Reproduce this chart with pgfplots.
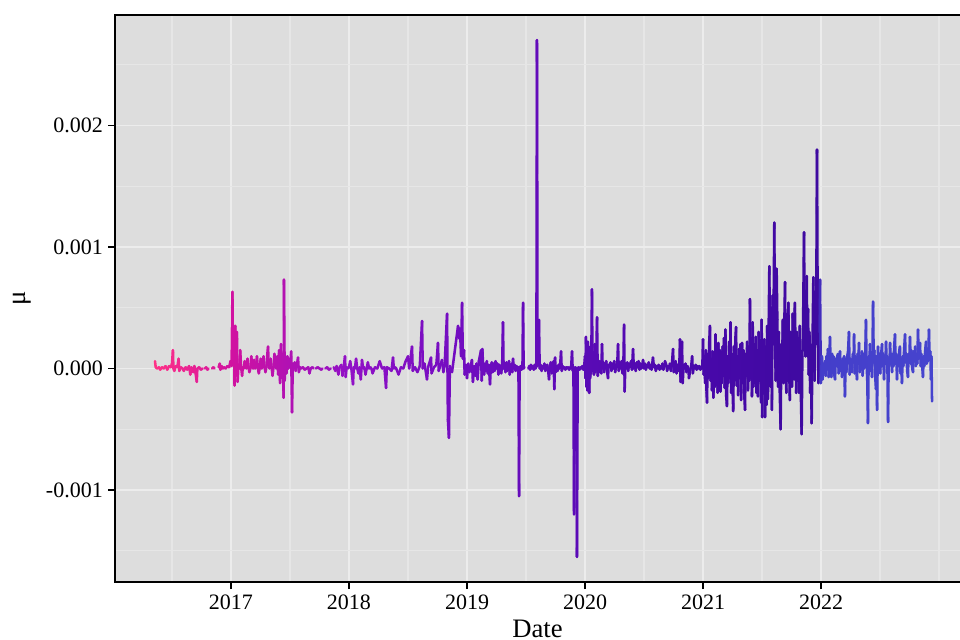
\documentclass[border=0pt]{standalone}
\usepackage{fontspec}
\setmainfont{Liberation Serif}
\usepackage{pgfplots}
\pgfplotsset{compat=1.18}
\definecolor{panel}{RGB}{221,221,221}
\definecolor{gridmaj}{RGB}{236,236,236}
\definecolor{gridmin}{RGB}{230,230,230}
\pgfplotsset{colormap={datecol}{rgb255(0pt)=(255,50,135); rgb255(64pt)=(210,18,160); rgb255(164pt)=(145,16,198); rgb255(264pt)=(112,12,192); rgb255(364pt)=(90,10,182); rgb255(464pt)=(72,8,170); rgb255(563pt)=(62,10,160); rgb255(565pt)=(68,62,202); rgb255(659pt)=(70,68,206)}}
\pgfplotsset{ser/.style={mesh, point meta=x, line width=1.9pt, no marks, line join=round, line cap=round}}
\begin{document}
\begin{tikzpicture}
\begin{axis}[name=ax, at={(0,0)}, anchor=south west,
  scale only axis, width=633.75pt, height=425.25pt,
  xmin=2016.017, xmax=2023.178, ymin=-0.001756, ymax=0.002907,
  axis background/.style={fill=panel},
  axis line style={draw=none},
  colormap name=datecol, point meta min=2016.356, point meta max=2022.941,
  xtick={2017,2018,2019,2020,2021,2022}, xticklabels={2017,2018,2019,2020,2021,2022},
  minor xtick={2016.5,2017.5,2018.5,2019.5,2020.5,2021.5,2022.5,2023},
  ytick={-0.001,0,0.001,0.002}, yticklabels={-0.001,0.000,0.001,0.002},
  minor ytick={-0.0015,-0.0005,0.0005,0.0015,0.0025},
  grid=both, major grid style={color=gridmaj, line width=1.1pt}, minor grid style={color=gridmin, line width=0.8pt},
  tick pos=left, tick align=outside, major tick length=5.25pt, minor tick length=0pt,
  every tick/.style={black, line width=1.1pt},
  ticklabel style={font=\fontsize{16.5}{19}\selectfont, inner sep=0pt},
  xticklabel style={yshift=-4.5pt}, yticklabel style={xshift=-3.75pt},
  xlabel={Date}, ylabel={μ},
  label style={font=\fontsize{20}{24}\selectfont, inner sep=0pt},
  xlabel style={at={(axis description cs:0.5,0)}, anchor=base, yshift=-41.25pt},
  ylabel style={at={(axis description cs:-0.110,0.5)}, anchor=center, rotate=0},
]
\addplot[ser] coordinates {(2016.356,0.00006)(2016.362,0.00001)(2016.375,0.00000)(2016.39,0.00001)(2016.40,-0.00001)(2016.415,0.00001)(2016.43,0.00000)(2016.445,0.00002)(2016.46,-0.00001)(2016.475,0.00002)(2016.49,0.00001)(2016.50,0.00004)(2016.508,0.00015)(2016.512,0.00000)(2016.52,-0.00002)(2016.53,0.00002)(2016.545,0.00001)(2016.556,0.00008)(2016.562,-0.00002)(2016.575,0.00001)(2016.59,0.00000)(2016.60,-0.00002)(2016.615,0.00001)(2016.63,-0.00001)(2016.645,0.00002)(2016.655,-0.00005)(2016.665,0.00001)(2016.68,-0.00003)(2016.69,0.00002)(2016.70,-0.00004)(2016.71,-0.00011)(2016.715,0.00000)(2016.73,0.00001)(2016.745,-0.00001)(2016.76,0.00000)};
\addplot[ser] coordinates {(2016.78,0.00000)(2016.79,0.00001)(2016.80,-0.00001)(2016.81,0.00000)};
\addplot[ser] coordinates {(2016.84,0.00000)(2016.85,0.00001)(2016.86,0.00000)};
\addplot[ser] coordinates {(2016.895,0.00001)(2016.905,0.00004)(2016.91,-0.00001)(2016.92,0.00002)(2016.93,0.00000)(2016.94,0.00001)(2016.955,0.00000)(2016.97,0.00002)(2016.985,0.00001)(2016.995,0.00006)(2017.005,0.00002)(2017.012,0.00063)(2017.018,0.00005)(2017.025,0.00025)(2017.03,-0.00014)(2017.036,0.00035)(2017.042,-0.00006)(2017.05,0.00030)(2017.056,-0.00011)(2017.063,0.00002)(2017.07,0.00000)(2017.078,0.00015)(2017.086,0.00001)(2017.094,-0.00006)(2017.10,0.00001)(2017.108,0.00000)(2017.116,0.00006)(2017.124,0.00001)(2017.132,0.00000)(2017.14,0.00008)(2017.148,0.00001)(2017.156,-0.00003)(2017.164,0.00000)(2017.172,0.00010)(2017.18,0.00001)(2017.188,0.00000)(2017.196,0.00007)(2017.204,0.00000)(2017.212,0.00001)(2017.22,0.00010)(2017.228,0.00000)(2017.236,-0.00004)(2017.244,0.00001)(2017.252,0.00008)(2017.26,0.00000)(2017.268,0.00001)(2017.276,0.00010)(2017.284,0.00001)(2017.292,-0.00003)(2017.30,0.00001)(2017.308,0.00012)(2017.314,0.00018)(2017.32,0.00001)(2017.328,0.00000)(2017.336,0.00008)(2017.344,0.00001)(2017.352,-0.00006)(2017.36,0.00001)(2017.368,0.00012)(2017.376,0.00001)(2017.384,0.00000)(2017.392,0.00010)(2017.40,-0.00005)(2017.408,0.00015)(2017.416,-0.00012)(2017.424,0.00020)(2017.432,-0.00008)(2017.44,0.00012)(2017.446,-0.00024)(2017.449,0.00073)(2017.455,-0.00010)(2017.462,0.00008)(2017.47,-0.00004)(2017.478,0.00010)(2017.486,0.00000)(2017.494,0.00008)(2017.502,0.00001)(2017.51,0.00014)(2017.517,-0.00036)(2017.524,0.00004)(2017.532,0.00000)(2017.54,0.00005)(2017.548,-0.00002)(2017.556,0.00001)(2017.568,0.00009)(2017.575,-0.00003)(2017.585,0.00001)(2017.595,0.00000)(2017.61,0.00001)(2017.625,-0.00001)(2017.64,0.00000)(2017.655,0.00001)(2017.665,-0.00004)(2017.675,0.00000)(2017.69,0.00001)(2017.70,0.00000)};
\addplot[ser] coordinates {(2017.72,0.00000)(2017.735,0.00001)(2017.75,0.00000)(2017.765,-0.00001)(2017.775,0.00000)};
\addplot[ser] coordinates {(2017.80,0.00000)(2017.815,0.00001)(2017.83,-0.00001)(2017.845,0.00000)};
\addplot[ser] coordinates {(2017.87,0.00001)(2017.885,-0.00002)(2017.895,0.00002)(2017.91,-0.00005)(2017.92,0.00001)(2017.935,0.00003)(2017.945,-0.00006)(2017.955,0.00001)(2017.966,0.00010)(2017.972,-0.00007)(2017.98,0.00001)(2017.99,0.00000)(2018.00,0.00001)(2018.01,0.00006)(2018.02,0.00000)(2018.034,-0.00013)(2018.04,0.00001)(2018.05,0.00000)(2018.06,0.00008)(2018.07,0.00000)(2018.08,-0.00004)(2018.09,0.00001)(2018.10,-0.00009)(2018.11,0.00007)(2018.12,0.00000)(2018.13,0.00001)(2018.14,-0.00005)(2018.15,0.00000)(2018.16,0.00005)(2018.17,0.00000)(2018.18,0.00001)(2018.19,0.00000)(2018.20,-0.00004)(2018.22,0.00001)(2018.24,0.00000)(2018.26,0.00006)(2018.28,0.00000)(2018.30,0.00001)(2018.314,-0.00016)(2018.32,0.00001)(2018.34,0.00000)(2018.36,-0.00002)(2018.373,0.00009)(2018.38,0.00000)(2018.39,0.00001)(2018.40,0.00000)(2018.42,-0.00005)(2018.44,0.00001)(2018.46,0.00000)(2018.48,0.00006)(2018.50,0.00010)(2018.51,0.00000)(2018.534,0.00018)(2018.54,-0.00002)(2018.56,0.00001)(2018.58,-0.00003)(2018.60,0.00002)(2018.619,0.00039)(2018.625,0.00000)(2018.64,0.00004)(2018.661,-0.00009)(2018.67,0.00001)(2018.695,0.00009)(2018.70,-0.00004)(2018.72,0.00001)(2018.74,0.00003)(2018.754,0.00021)(2018.76,-0.00002)(2018.77,0.00001)(2018.788,0.00007)(2018.80,-0.00003)(2018.81,0.00002)(2018.831,0.00045)(2018.838,-0.00042)(2018.847,-0.00057)(2018.855,0.00002)(2018.873,-0.00003)(2018.924,0.00035)(2018.93,0.00025)(2018.94,0.00033)(2018.95,0.00010)(2018.958,0.00054)(2018.965,0.00008)(2018.975,0.00015)(2018.98,-0.00005)(2018.99,0.00003)(2019.00,-0.00008)(2019.01,0.00004)(2019.02,-0.00003)(2019.042,0.00007)(2019.05,-0.00011)(2019.06,0.00002)(2019.07,-0.00006)(2019.08,0.00004)(2019.09,-0.00009)(2019.10,0.00006)(2019.119,0.00015)(2019.125,-0.00010)(2019.13,0.00016)(2019.137,0.00002)(2019.145,-0.00005)(2019.153,0.00004)(2019.16,-0.00002)(2019.168,0.00006)(2019.176,-0.00004)(2019.185,0.00003)(2019.195,-0.00013)(2019.202,0.00002)(2019.21,0.00005)(2019.218,-0.00003)(2019.226,0.00004)(2019.234,-0.00002)(2019.242,0.00006)(2019.25,0.00000)(2019.258,0.00004)(2019.266,-0.00005)(2019.274,0.00003)(2019.282,0.00001)(2019.29,-0.00004)(2019.298,0.00003)(2019.305,0.00038)(2019.31,0.00000)(2019.318,0.00004)(2019.326,-0.00003)(2019.334,0.00005)(2019.342,-0.00002)(2019.35,0.00003)(2019.356,0.00006)(2019.362,-0.00005)(2019.37,0.00002)(2019.378,0.00004)(2019.384,-0.00003)(2019.39,0.00008)(2019.396,0.00000)(2019.404,0.00003)(2019.412,-0.00002)(2019.42,0.00002)(2019.428,-0.00001)(2019.436,0.00001)(2019.441,-0.00105)(2019.446,0.00000)(2019.455,0.00002)(2019.462,-0.00001)(2019.47,0.00001)(2019.475,0.00054)(2019.48,0.00000)(2019.487,0.00001)};
\addplot[ser] coordinates {(2019.52,0.00000)(2019.528,0.00002)(2019.535,-0.00001)(2019.542,0.00003)(2019.55,0.00000)(2019.558,0.00002)(2019.566,-0.00001)(2019.574,0.00003)(2019.582,0.00000)(2019.588,0.00004)(2019.593,0.00270)(2019.598,0.00002)(2019.604,0.00010)(2019.61,0.00040)(2019.616,0.00000)(2019.624,0.00003)(2019.632,-0.00002)(2019.64,0.00002)(2019.648,0.00000)(2019.656,0.00004)(2019.664,-0.00002)(2019.672,0.00001)(2019.68,0.00003)(2019.688,-0.00002)(2019.695,-0.00009)(2019.702,0.00002)(2019.71,0.00005)(2019.718,-0.00004)(2019.726,0.00003)(2019.734,0.00006)(2019.74,-0.00017)(2019.746,0.00009)(2019.752,-0.00003)(2019.76,0.00002)(2019.768,-0.00002)(2019.776,0.00003)(2019.784,0.00000)(2019.79,0.00004)(2019.797,0.00014)(2019.803,-0.00002)(2019.81,0.00002)(2019.818,0.00000)(2019.826,0.00001)(2019.834,-0.00001)(2019.842,0.00001)(2019.85,0.00000)(2019.858,0.00001)(2019.866,-0.00001)(2019.874,0.00001)(2019.882,0.00000)(2019.89,0.00014)(2019.896,-0.00002)(2019.902,0.00001)(2019.907,-0.00120)(2019.912,0.00000)(2019.918,0.00001)(2019.925,0.00000)(2019.932,-0.00155)(2019.938,0.00000)(2019.946,0.00001)(2019.954,-0.00001)(2019.962,0.00001)(2019.97,0.00000)(2019.978,0.00002)(2019.986,-0.00001)(2019.994,0.00003)(2020.000,0.00010)(2020.004,-0.00008)(2020.008,0.00026)(2020.012,-0.00015)(2020.016,0.00020)(2020.02,-0.00018)(2020.024,0.00022)(2020.028,-0.00012)(2020.032,0.00018)(2020.036,-0.00020)(2020.04,0.00012)(2020.044,-0.00008)(2020.048,0.00010)(2020.052,-0.00004)(2020.059,0.00065)(2020.064,-0.00002)(2020.07,0.00006)(2020.076,-0.00005)(2020.082,0.00020)(2020.088,-0.00003)(2020.095,0.00008)(2020.102,0.00042)(2020.108,-0.00006)(2020.114,0.00004)(2020.12,-0.00003)(2020.126,0.00006)(2020.132,0.00002)(2020.138,-0.00004)(2020.144,0.00020)(2020.15,0.00000)(2020.156,0.00005)(2020.162,-0.00003)(2020.168,0.00004)(2020.174,0.00000)(2020.18,0.00006)(2020.188,-0.00003)(2020.195,-0.00008)(2020.2,0.00003)(2020.208,0.00001)(2020.216,0.00005)(2020.224,-0.00002)(2020.232,0.00004)(2020.24,0.00000)(2020.248,0.00006)(2020.256,-0.00003)(2020.264,0.00003)(2020.272,0.00001)(2020.28,0.00020)(2020.286,-0.00002)(2020.294,0.00004)(2020.302,0.00000)(2020.31,0.00006)(2020.318,-0.00004)(2020.326,0.00008)(2020.331,0.00036)(2020.336,-0.00019)(2020.342,0.00004)(2020.35,0.00000)(2020.358,0.00005)(2020.366,-0.00002)(2020.374,0.00004)(2020.382,0.00001)(2020.39,0.00006)(2020.398,-0.00001)(2020.407,0.00016)(2020.414,0.00000)(2020.422,0.00004)(2020.43,-0.00002)(2020.438,0.00005)(2020.446,0.00001)(2020.454,0.00006)(2020.462,-0.00001)(2020.47,0.00004)(2020.478,0.00000)(2020.485,0.00003)(2020.492,0.00007)(2020.5,0.00000)(2020.508,0.00004)(2020.516,-0.00001)(2020.524,0.00003)(2020.532,0.00001)(2020.54,0.00005)(2020.548,0.00000)(2020.556,0.00003)(2020.564,-0.00001)(2020.576,0.00009)(2020.584,0.00001)(2020.592,0.00003)(2020.6,-0.00002)(2020.608,0.00002)(2020.616,0.00000)(2020.624,0.00003)(2020.632,-0.00001)(2020.64,0.00002)(2020.648,0.00000)(2020.656,0.00004)(2020.664,-0.00001)(2020.672,0.00002)(2020.678,0.00006)(2020.688,0.00003)(2020.696,-0.00002)(2020.704,0.00002)(2020.712,0.00000)(2020.72,0.00004)(2020.728,-0.00002)(2020.736,0.00003)(2020.746,0.00016)(2020.752,-0.00003)(2020.76,0.00002)(2020.768,0.00006)(2020.776,-0.00004)(2020.784,0.00003)(2020.792,-0.00002)(2020.8,0.00005)(2020.805,0.00024)(2020.81,-0.00011)(2020.815,0.00004)(2020.822,0.00022)(2020.828,-0.00012)(2020.836,0.00003)(2020.844,0.00000)(2020.852,0.00004)(2020.86,-0.00003)(2020.868,0.00002)(2020.876,0.00000)(2020.881,-0.00008)(2020.892,-0.00001)(2020.9,0.00002)(2020.908,0.00010)(2020.914,-0.00004)(2020.922,0.00002)(2020.93,0.00000)(2020.938,0.00003)(2020.946,-0.00001)(2020.954,0.00002)(2020.962,0.00000)(2020.97,0.00002)(2020.978,-0.00001)(2020.986,0.00001)(2020.994,0.00000)(2021.000,0.00024)(2021.006,-0.00005)(2021.012,0.00010)(2021.018,-0.00012)(2021.024,0.00015)(2021.03,-0.00020)(2021.034,-0.00028)(2021.04,0.00012)(2021.046,-0.00008)(2021.052,0.00020)(2021.059,0.00035)(2021.064,-0.00010)(2021.07,0.00008)(2021.076,-0.00018)(2021.082,0.00014)(2021.088,-0.00024)(2021.094,0.00010)(2021.1,-0.00015)(2021.106,0.00028)(2021.112,-0.00005)(2021.118,0.00012)(2021.124,-0.00020)(2021.13,0.00021)(2021.136,-0.00010)(2021.142,0.00015)(2021.148,-0.00019)(2021.154,0.00008)(2021.16,-0.00012)(2021.166,0.00018)(2021.172,-0.00006)(2021.178,0.00025)(2021.184,-0.00016)(2021.19,0.00032)(2021.196,-0.00022)(2021.203,-0.00031)(2021.209,0.00010)(2021.215,-0.00012)(2021.221,0.00022)(2021.227,-0.00008)(2021.233,0.00038)(2021.239,-0.00020)(2021.245,0.00012)(2021.25,-0.00015)(2021.256,-0.00035)(2021.262,0.00018)(2021.268,-0.00010)(2021.274,0.00024)(2021.28,0.00034)(2021.286,-0.00014)(2021.292,0.00010)(2021.298,-0.00022)(2021.305,0.00016)(2021.311,-0.00008)(2021.317,0.00020)(2021.323,-0.00026)(2021.331,0.00021)(2021.337,-0.00012)(2021.343,0.00015)(2021.349,-0.00020)(2021.356,-0.00034)(2021.362,0.00012)(2021.368,-0.00006)(2021.374,0.00022)(2021.381,-0.00018)(2021.386,0.00018)(2021.392,-0.00010)(2021.398,0.00057)(2021.404,-0.00008)(2021.41,0.00025)(2021.415,-0.00023)(2021.421,0.00038)(2021.427,-0.00015)(2021.433,0.00020)(2021.441,-0.00012)(2021.447,0.00026)(2021.453,-0.00020)(2021.459,0.00014)(2021.466,-0.00023)(2021.472,0.00030)(2021.478,-0.00010)(2021.484,0.00020)(2021.492,-0.00028)(2021.497,0.00040)(2021.502,-0.00040)(2021.508,0.00015)(2021.514,-0.00010)(2021.52,0.00024)(2021.526,-0.00040)(2021.532,0.00018)(2021.538,-0.00030)(2021.544,0.00035)(2021.55,-0.00025)(2021.556,0.00030)(2021.562,0.00084)(2021.567,0.00020)(2021.572,-0.00015)(2021.578,0.00050)(2021.584,-0.00034)(2021.59,0.00060)(2021.596,0.00020)(2021.604,0.00120)(2021.61,0.00030)(2021.616,-0.00010)(2021.624,0.00082)(2021.63,0.00040)(2021.636,-0.00015)(2021.642,0.00030)(2021.648,-0.00010)(2021.658,-0.00050)(2021.664,0.00020)(2021.67,-0.00005)(2021.676,0.00040)(2021.682,-0.00012)(2021.688,0.00030)(2021.695,0.00071)(2021.7,0.00010)(2021.706,-0.00020)(2021.712,0.00045)(2021.718,-0.00010)(2021.723,0.00054)(2021.73,0.00002)(2021.736,-0.00026)(2021.742,0.00030)(2021.748,0.00002)(2021.754,-0.00015)(2021.76,0.00045)(2021.766,0.00010)(2021.772,-0.00009)(2021.778,0.00054)(2021.784,0.00020)(2021.79,-0.00020)(2021.796,0.00030)(2021.802,-0.00010)(2021.808,0.00025)(2021.814,-0.00020)(2021.82,0.00035)(2021.826,-0.00005)(2021.836,-0.00054)(2021.842,0.00010)(2021.848,0.00035)(2021.856,0.00112)(2021.862,0.00030)(2021.868,0.00010)(2021.874,0.00045)(2021.879,0.00076)(2021.885,0.00010)(2021.89,0.00049)(2021.896,-0.00005)(2021.902,0.00030)(2021.908,-0.00020)(2021.914,0.00010)(2021.921,-0.00045)(2021.928,0.00020)(2021.935,0.00075)(2021.94,0.00030)(2021.946,-0.00010)(2021.952,0.00050)(2021.958,0.00020)(2021.966,0.00180)(2021.972,0.00040)(2021.978,-0.00012)(2021.985,0.00030)(2021.992,0.00073)(2021.998,-0.00012)(2022.004,0.00002)(2022.008,0.00010)(2022.014,-0.00009)(2022.02,0.00004)(2022.026,-0.00004)(2022.034,0.00006)(2022.04,-0.00006)(2022.046,0.00010)(2022.052,0.00003)(2022.059,0.00016)(2022.065,-0.00007)(2022.07,0.00005)(2022.076,0.00026)(2022.082,0.00002)(2022.088,-0.00007)(2022.094,0.00012)(2022.1,0.00002)(2022.106,0.00010)(2022.112,-0.00005)(2022.119,-0.00009)(2022.125,0.00008)(2022.131,0.00002)(2022.137,0.00010)(2022.144,0.00012)(2022.15,-0.00004)(2022.156,0.00008)(2022.161,0.00014)(2022.167,-0.00002)(2022.172,0.00006)(2022.178,-0.00007)(2022.184,0.00008)(2022.19,-0.00005)(2022.196,0.00010)(2022.203,-0.00023)(2022.209,0.00008)(2022.215,-0.00003)(2022.222,0.00010)(2022.229,0.00014)(2022.237,0.00030)(2022.243,-0.00005)(2022.25,0.00008)(2022.256,0.00002)(2022.263,-0.00003)(2022.27,0.00012)(2022.276,0.00005)(2022.28,0.00028)(2022.286,-0.00004)(2022.292,0.00010)(2022.298,0.00000)(2022.305,-0.00009)(2022.31,0.00012)(2022.316,0.00004)(2022.322,0.00021)(2022.328,-0.00003)(2022.334,0.00010)(2022.34,0.00002)(2022.347,0.00014)(2022.353,-0.00006)(2022.36,0.00012)(2022.366,0.00000)(2022.373,0.00002)(2022.381,0.00040)(2022.386,0.00005)(2022.392,-0.00010)(2022.398,-0.00045)(2022.404,0.00010)(2022.41,0.00004)(2022.415,0.00020)(2022.42,-0.00002)(2022.426,0.00012)(2022.432,-0.00007)(2022.436,0.00010)(2022.441,0.00055)(2022.447,0.00005)(2022.452,0.00015)(2022.458,-0.00005)(2022.466,-0.00017)(2022.47,0.00010)(2022.475,-0.00034)(2022.48,0.00005)(2022.483,0.00018)(2022.49,0.00002)(2022.496,0.00012)(2022.502,-0.00004)(2022.508,0.00010)(2022.517,0.00020)(2022.522,0.00002)(2022.528,0.00012)(2022.534,-0.00009)(2022.54,0.00010)(2022.546,0.00004)(2022.551,0.00022)(2022.557,0.00003)(2022.562,0.00010)(2022.568,-0.00044)(2022.574,0.00008)(2022.58,0.00002)(2022.585,0.00021)(2022.591,0.00005)(2022.596,0.00012)(2022.602,-0.00003)(2022.608,0.00012)(2022.614,0.00002)(2022.62,0.00018)(2022.627,0.00028)(2022.632,0.00004)(2022.638,0.00012)(2022.644,-0.00009)(2022.65,0.00010)(2022.656,0.00002)(2022.662,0.00014)(2022.669,0.00018)(2022.674,-0.00004)(2022.68,0.00008)(2022.686,-0.00012)(2022.692,0.00010)(2022.698,0.00002)(2022.704,0.00015)(2022.712,0.00028)(2022.718,0.00005)(2022.724,0.00012)(2022.73,-0.00002)(2022.737,-0.00007)(2022.742,0.00012)(2022.748,0.00005)(2022.754,0.00026)(2022.76,0.00004)(2022.766,0.00015)(2022.772,0.00000)(2022.78,-0.00003)(2022.786,0.00014)(2022.792,0.00006)(2022.798,0.00018)(2022.804,0.00002)(2022.81,0.00012)(2022.816,0.00004)(2022.822,0.00032)(2022.828,0.00008)(2022.834,0.00014)(2022.839,0.00021)(2022.845,0.00002)(2022.85,0.00012)(2022.856,0.00004)(2022.864,-0.00007)(2022.87,0.00010)(2022.876,0.00002)(2022.882,0.00014)(2022.89,0.00022)(2022.896,0.00004)(2022.902,0.00012)(2022.908,0.00006)(2022.915,0.00032)(2022.92,0.00008)(2022.926,0.00014)(2022.932,-0.00009)(2022.936,0.00010)(2022.941,-0.00027)};
\end{axis}
\draw[black, line width=1.5pt] (ax.north east) -- (ax.north west) -- (ax.south west) -- (ax.south east);
\pgfresetboundingbox
\path[use as bounding box] (-86.25pt,-42.75pt) rectangle (633.75pt,436.5pt);
\end{tikzpicture}
\end{document}
